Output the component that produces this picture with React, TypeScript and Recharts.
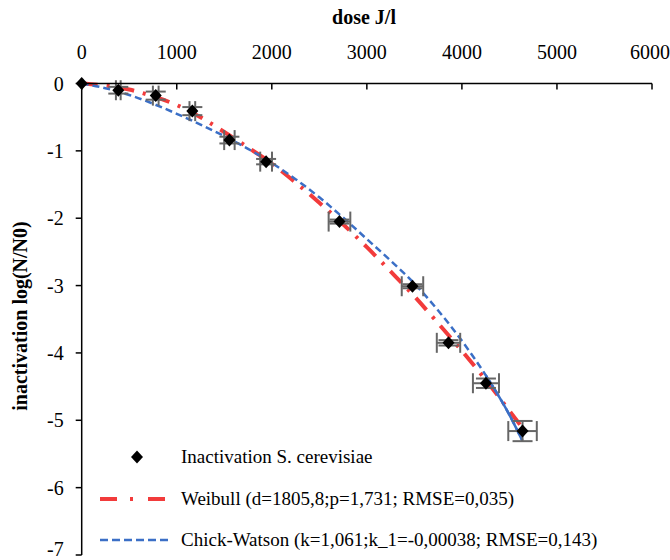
import { ComposedChart, ErrorBar, Line, Scatter, XAxis, YAxis } from "recharts";

// measured points (dose J/l, log(N/N0)) with error bars
const doses = [0, 385, 779, 1164, 1554, 1940, 2712, 3480, 3859, 4253, 4638];
const inactivation = [0, -0.1, -0.18, -0.41, -0.84, -1.16, -2.05, -3.01, -3.85, -4.45, -5.16];
const doseErr = [0, 25, 30, 30, 55, 62, 114, 113, 123, 137, 150];
const logErr = [0, 0.05, 0.06, 0.06, 0.05, 0.04, 0.03, 0.03, 0.04, 0.07, 0.15];

// fitted curves
const weibullDoses = [0, 250, 500, 750, 1000, 1250, 1500, 1750, 2000, 2250, 2500, 2750, 3000, 3250, 3500, 3750, 4000, 4250, 4500, 4620];
const weibullFit = [0, -0.03, -0.09, -0.19, -0.32, -0.5, -0.72, -0.95, -1.19, -1.47, -1.77, -2.09, -2.43, -2.79, -3.16, -3.56, -3.97, -4.4, -4.86, -5.08];
const chickDoses = [0, 250, 500, 750, 1000, 1250, 1500, 1750, 2000, 2250, 2500, 2750, 3000, 3250, 3500, 3750, 4000, 4250, 4500, 4635];
const chickWatsonFit = [0, -0.07, -0.17, -0.3, -0.45, -0.61, -0.78, -0.97, -1.18, -1.42, -1.69, -1.99, -2.31, -2.63, -2.97, -3.37, -3.82, -4.33, -4.92, -5.3];

const xTicks = [0, 1000, 2000, 3000, 4000, 5000, 6000];
const yTicks = [0, -1, -2, -3, -4, -5, -6, -7];
const legendLabels = [
  "Inactivation S. cerevisiae",
  "Weibull (d=1805,8;p=1,731; RMSE=0,035)",
  "Chick-Watson (k=1,061;k_1=-0,00038; RMSE=0,143)",
];

const points = doses.map((x, i) => ({ x, y: inactivation[i], xe: doseErr[i], ye: logErr[i] }));
const weibull = weibullDoses.map((x, i) => ({ x, y: weibullFit[i] }));
const chick = chickDoses.map((x, i) => ({ x, y: chickWatsonFit[i] }));
const chickTail = chick.filter((d) => d.x >= 4250);

const FONT = "Liberation Serif, Times New Roman, serif";
const RED = "#f23b3b";
const BLUE = "#3b6fc6";

const Diamond = (props: any) => {
  const { cx, cy } = props;
  if (cx == null || cy == null) return null;
  return <path d={`M${cx},${cy - 6.5}L${cx + 6},${cy}L${cx},${cy + 6.5}L${cx - 6},${cy}Z`} fill="#000" />;
};

export default function App() {
  const tick = { fontFamily: FONT, fontSize: 20, fill: "#000" };
  return (
    <div style={{ position: "fixed", left: 0, top: 0, width: 670, height: 560, background: "#fff" }}>
      <ComposedChart width={670} height={560} margin={{ top: 0, right: 18, bottom: 5, left: 0 }}>
        <XAxis
          type="number"
          dataKey="x"
          orientation="top"
          domain={[0, 6000]}
          ticks={xTicks}
          height={83.5}
          tick={tick}
          tickSize={-6}
          tickMargin={31}
          stroke="#000"
          strokeWidth={1.5}
        />
        <YAxis
          type="number"
          dataKey="y"
          domain={[-7, 0]}
          ticks={yTicks}
          width={81.7}
          tick={tick}
          tickSize={6}
          tickMargin={12}
          stroke="#000"
          strokeWidth={1.5}
        />
        <Line data={weibull} dataKey="y" type="monotone" stroke={RED} strokeWidth={4} strokeDasharray="16 9 3 9" dot={false} isAnimationActive={false} />
        <Line data={chick} dataKey="y" type="monotone" stroke={BLUE} strokeWidth={2.5} strokeDasharray="7 4" dot={false} isAnimationActive={false} />
        <Line data={chickTail} dataKey="y" type="monotone" stroke={BLUE} strokeWidth={2.5} dot={false} isAnimationActive={false} />
        <Scatter data={points} dataKey="y" shape={Diamond} isAnimationActive={false}>
          <ErrorBar dataKey="xe" direction="x" width={10} stroke="#666" strokeWidth={2} />
          <ErrorBar dataKey="ye" direction="y" width={10} stroke="#666" strokeWidth={2} />
        </Scatter>
      </ComposedChart>
      <svg width={670} height={560} style={{ position: "absolute", left: 0, top: 0, pointerEvents: "none" }}>
        <text x={364} y={24} textAnchor="middle" fontFamily={FONT} fontSize={20} fontWeight="bold">
          dose J/l
        </text>
        <text
          transform="translate(27,316) rotate(-90)"
          textAnchor="middle"
          fontFamily={FONT}
          fontSize={20}
          fontWeight="bold"
        >
          inactivation log(N/N0)
        </text>
        <path d="M137,450.5L143,457L137,463.5L131,457Z" fill="#000" />
        <line x1={100} y1={499} x2={165} y2={499} stroke={RED} strokeWidth={4} strokeDasharray="17 13 3 15" />
        <line x1={100} y1={540} x2={172} y2={540} stroke={BLUE} strokeWidth={2.5} strokeDasharray="8 4" />
        {legendLabels.map((label, i) => (
          <text key={label} x={181} y={[463, 505, 546][i]} fontFamily={FONT} fontSize={19} fill="#000">
            {label}
          </text>
        ))}
      </svg>
    </div>
  );
}
